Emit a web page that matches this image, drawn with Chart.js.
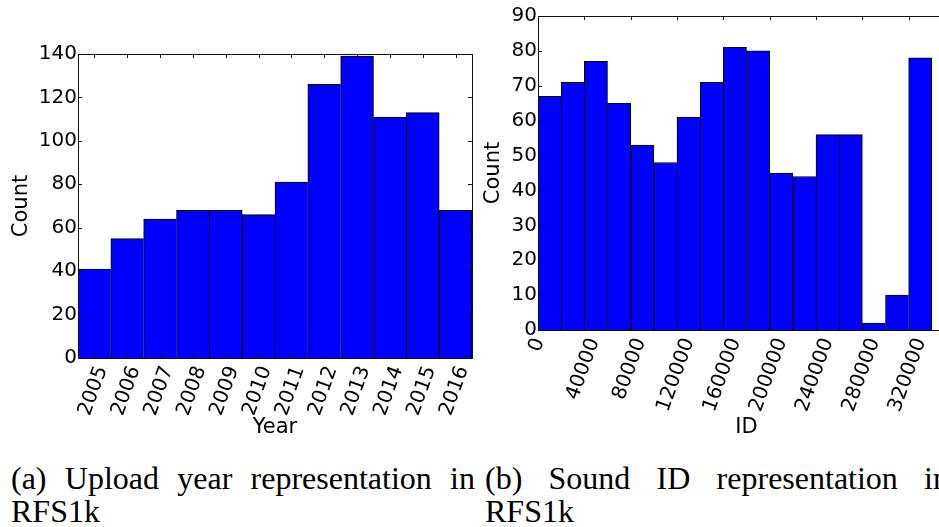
<!DOCTYPE html>
<html>
<head>
<meta charset="utf-8">
<script src="https://cdn.jsdelivr.net/npm/chart.js@4.4.0/dist/chart.umd.min.js"></script>
<style>
  html, body { margin: 0; padding: 0; background: #fff; overflow: hidden; }
  body { width: 939px; height: 527px; position: relative; }
  canvas { position: absolute; top: 0; }
  #years { left: 0; }
  #ids { left: 480px; }
  .caption {
    position: absolute;
    top: 462px;
    width: 464px;
    font-family: 'Liberation Serif', serif;
    font-size: 32px;
    line-height: 32.5px;
    text-align: justify;
    color: #000;
  }
  #capA { left: 11px; }
  #capB { left: 485px; }
</style>
</head>
<body>
<canvas id="years" width="480" height="440"></canvas>
<canvas id="ids" width="480" height="440"></canvas>
<div class="caption" id="capA">(a) Upload year representation in RFS1k</div>
<div class="caption" id="capB">(b) Sound ID representation in RFS1k</div>
<script>
// uploads per year
const yearLabels = ['2005', '2006', '2007', '2008', '2009', '2010', '2011', '2012', '2013', '2014', '2015', '2016'];
const yearCounts = [41, 55, 64, 68, 68, 66, 81, 126, 139, 111, 113, 68];

// sound id histogram, 20000 wide bins
const idBinStarts = [0, 20000, 40000, 60000, 80000, 100000, 120000, 140000, 160000, 180000, 200000, 220000, 240000, 260000, 280000, 300000, 320000];
const idBinWidth = 20000;
const idCounts = [67, 71, 77, 65, 53, 48, 61, 71, 81, 80, 45, 44, 56, 56, 2, 10, 78];

const tickFont = { family: 'DejaVu Sans', size: 20 };
const titleFont = { family: 'DejaVu Sans', size: 21 };

// box round the plot plus inward tick marks on every side
const frameTicks = {
    id: 'frameTicks',
    afterDatasetsDraw(chart) {
        const { ctx, chartArea: a, scales } = chart;
        const len = 4;
        ctx.save();
        ctx.strokeStyle = '#111';
        ctx.lineWidth = 1;
        ctx.beginPath();
        scales.x.ticks.forEach(function (t, i) {
            const px = Math.round(scales.x.getPixelForTick(i)) + 0.5;
            ctx.moveTo(px, a.top);
            ctx.lineTo(px, a.top + len);
            ctx.moveTo(px, a.bottom);
            ctx.lineTo(px, a.bottom - len);
        });
        scales.y.ticks.forEach(function (t, i) {
            const py = Math.round(scales.y.getPixelForTick(i)) + 0.5;
            ctx.moveTo(a.left, py);
            ctx.lineTo(a.left + len, py);
            ctx.moveTo(a.right, py);
            ctx.lineTo(a.right - len, py);
        });
        ctx.stroke();
        ctx.strokeRect(Math.round(a.left) + 0.5, Math.round(a.top) + 0.5,
            Math.round(a.right - a.left), Math.round(a.bottom - a.top));
        ctx.restore();
    }
};

// rotated x labels are right-aligned on their tick by default;
// slide each one so its box is centred on the tick instead
const centerRotatedLabels = {
    id: 'centerRotatedLabels',
    beforeDraw(chart) {
        const scale = chart.scales.x;
        const rot = scale.labelRotation * Math.PI / 180;
        const ctx = chart.ctx;
        ctx.save();
        scale.getLabelItems(chart.chartArea).forEach(function (item) {
            if (item.centered) return;
            ctx.font = item.font.string;
            const w = ctx.measureText(item.label).width;
            item.options.translation[0] += w * Math.cos(rot) / 2;
            item.centered = true;
        });
        ctx.restore();
    }
};

// each bar draws its left and top edge; right edge only where the next bar is lower
function edgeWidths(counts) {
    return function (ctx) {
        const i = ctx.dataIndex;
        const next = counts[i + 1];
        return { top: 1, left: 1, bottom: 0, right: (next === undefined || next < counts[i]) ? 1 : 0 };
    };
}

function barDataset(data, counts) {
    return {
        data: data,
        backgroundColor: '#0000ff',
        borderColor: '#000',
        borderWidth: edgeWidths(counts),
        borderSkipped: false,
        barPercentage: 1,
        categoryPercentage: 1
    };
}

function xAxis(title, height, extra, tickExtra) {
    return Object.assign({
        grid: { display: false, drawTicks: false },
        border: { display: false },
        ticks: Object.assign({
            font: tickFont, color: '#000', autoSkip: false,
            minRotation: 70, maxRotation: 70, padding: 5, labelOffset: -1
        }, tickExtra),
        title: { display: true, text: title, font: titleFont, color: '#000', padding: { top: 0, bottom: 0 } },
        afterFit: function (s) {
            s.height = height;
            s.paddingLeft = 0;
            s.paddingRight = 0;
        }
    }, extra);
}

function yAxis(max, step, width, titlePad) {
    return {
        min: 0,
        max: max,
        grid: { display: false, drawTicks: false },
        border: { display: false },
        ticks: { stepSize: step, font: tickFont, color: '#000', padding: 1 },
        title: { display: true, text: 'Count', font: titleFont, color: '#000', padding: { top: titlePad, bottom: 0 } },
        afterFit: function (s) {
            s.width = width;
            s.paddingTop = 0;
            s.paddingBottom = 0;
        }
    };
}

const common = {
    responsive: false,
    animation: false,
    plugins: { legend: { display: false }, tooltip: { enabled: false } }
};

new Chart(document.getElementById('years'), {
    type: 'bar',
    data: {
        labels: yearLabels,
        datasets: [barDataset(yearCounts, yearCounts)]
    },
    options: Object.assign({}, common, {
        layout: { padding: { left: 0, top: 54, right: 8, bottom: 0 } },
        scales: {
            x: xAxis('Year', 82),
            y: yAxis(140, 20, 78, 9)
        }
    }),
    plugins: [frameTicks, centerRotatedLabels]
});

const idPoints = idCounts.map(function (c, i) {
    return { x: idBinStarts[i] + idBinWidth / 2, y: c };
});
const idLastEdge = idBinStarts[idBinStarts.length - 1] + idBinWidth;

new Chart(document.getElementById('ids'), {
    type: 'bar',
    data: {
        datasets: [barDataset(idPoints, idCounts)]
    },
    options: Object.assign({}, common, {
        layout: { padding: { left: 0, top: 16, right: 5, bottom: 0 } },
        scales: {
            x: xAxis('ID', 110, {
                type: 'linear',
                min: 0,
                max: 360000,
                offset: false
            }, {
                stepSize: 40000,
                // plain integers, and nothing past the last bin
                callback: function (v) { return v > idLastEdge ? '' : String(v); }
            }),
            y: yAxis(90, 10, 58, 1)
        }
    }),
    plugins: [frameTicks, centerRotatedLabels]
});
</script>
</body>
</html>
